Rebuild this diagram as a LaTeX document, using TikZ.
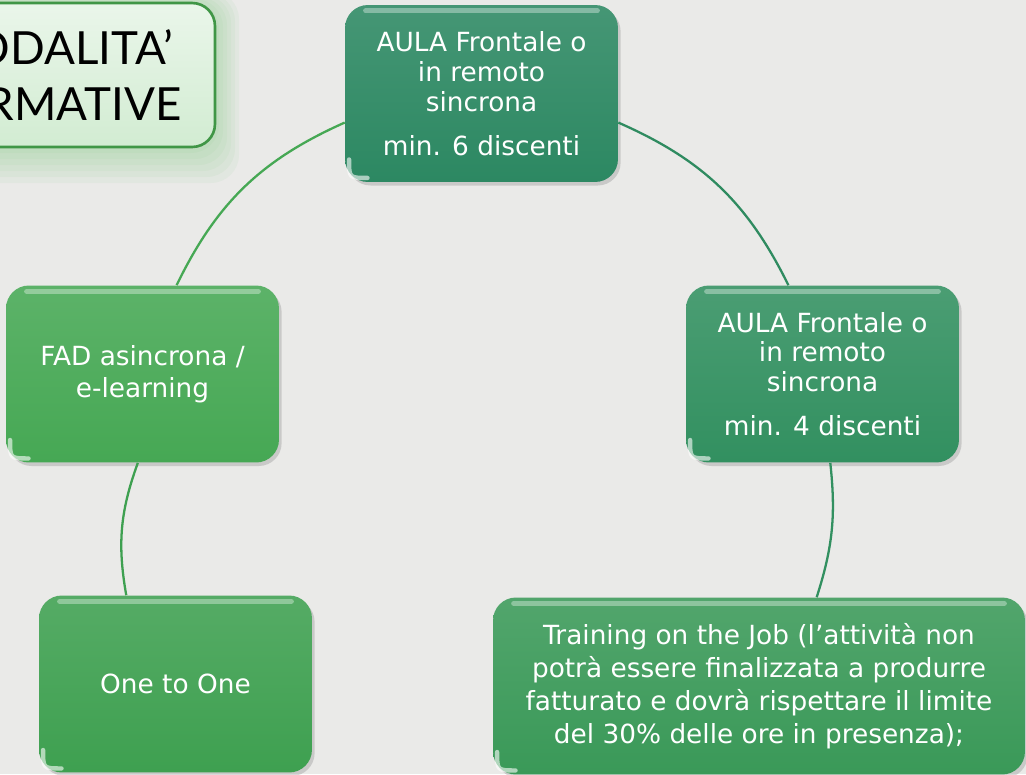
\documentclass[tikz,border=0pt]{standalone}
\usepackage{fontspec}
\setmainfont{DejaVu Sans}
\newfontfamily\titlefont{Lato}
\usetikzlibrary{shadows}
\definecolor{paper}{RGB}{234, 234, 232}
\definecolor{zx_teal}{RGB}{44, 136, 98}
\definecolor{zx_sea}{RGB}{50, 144, 96}
\definecolor{zx_jade}{RGB}{58, 153, 88}
\definecolor{zx_leaf}{RGB}{62, 160, 80}
\definecolor{zx_grass}{RGB}{70, 168, 84}
\definecolor{zx_mint}{RGB}{220, 240, 220}
\definecolor{zx_rim}{RGB}{64, 150, 70}
\definecolor{zx_glow}{RGB}{120, 200, 120}
\tikzstyle{cyc}=[rectangle,rounded corners=13pt,text=white,align=center,
  minimum width=5.46cm,minimum height=3.54cm,inner sep=4pt,
  font=\fontsize{15}{17}\selectfont,
  drop shadow={opacity=0.3,shadow xshift=1.5pt,shadow yshift=-2pt}]
\tikzstyle{teal}=[cyc,top color=zx_teal!88!white,bottom color=zx_teal]
\tikzstyle{sea}=[cyc,top color=zx_sea!88!white,bottom color=zx_sea]
\tikzstyle{jade}=[cyc,top color=zx_jade!88!white,bottom color=zx_jade]
\tikzstyle{leaf}=[cyc,top color=zx_leaf!88!white,bottom color=zx_leaf]
\tikzstyle{grass}=[cyc,top color=zx_grass!88!white,bottom color=zx_grass]
\tikzstyle{headbox}=[rectangle,rounded corners=13pt,draw=zx_rim,line width=1.5pt,
  top color=zx_mint!60!white,bottom color=zx_mint!90!zx_glow,align=center,
  minimum width=6.5cm,minimum height=2.88cm,
  font=\titlefont\fontsize{26}{32}\selectfont]
\tikzstyle{glow}=[fill=zx_glow,opacity=0.07,rounded corners=16pt]
\tikzstyle{arc}=[line width=1.3pt]
\tikzstyle{shine}=[white,opacity=0.35,line width=3pt,line cap=round]
\tikzstyle{glint}=[white,opacity=0.6,line width=2.5pt,line cap=round]
\newcommand{\boxshine}[1]{
            \draw [shine] ([xshift=12pt,yshift=-3.5pt]#1.north west) to ([xshift=-12pt,yshift=-3.5pt]#1.north east);
            \draw [glint] ([shift={(2.5pt,13pt)}]#1.south west) .. controls ([shift={(2.5pt,2.5pt)}]#1.south west) .. ([shift={(13pt,2.5pt)}]#1.south west);
}

\begin{document}
\begin{tikzpicture}[x=0.02cm, y=-0.02cm]
            \useasboundingbox (0, 0) rectangle (1026, 774);
            \clip (0, 0) rectangle (1026, 774);
            \fill [paper] (0, 0) rectangle (1026, 774);
            \foreach \g in {4,8,...,24}
                \fill [glow] ({-110-\g}, {3-\g/2}) rectangle ({215+\g}, {147+1.5*\g});
            \node [style=headbox] (head) at (52.5, 75) {MODALITA’\\FORMATIVE};
            \node [style=teal] (aula6) at (481.5, 93.5) {AULA Frontale o\\in remoto\\sincrona\\[8pt]min. 6 discenti};
            \node [style=sea] (aula4) at (822.5, 374) {AULA Frontale o\\in remoto\\sincrona\\[8pt]min. 4 discenti};
            \node [style=grass, font=\fontsize{15}{18}\selectfont] (fad) at (142.5, 374) {FAD asincrona /\\e-learning};
            \node [style=leaf] (one) at (175.5, 684) {One to One};
            \node [style=jade, minimum width=10.64cm, font=\fontsize{15}{18.7}\selectfont] (job) at (759, 686) {Training on the Job (l’attività non\\potrà essere finalizzata a produrre\\fatturato e dovrà rispettare il limite\\del 30\% delle ore in presenza);};
            \boxshine{aula6}
            \boxshine{aula4}
            \boxshine{fad}
            \boxshine{one}
            \boxshine{job}
            \draw [arc, zx_grass, bend right=20] (aula6.192) to (fad.69);
            \draw [arc, zx_teal!80!zx_jade, bend left=20] (aula6.348) to (aula4.111);
            \draw [arc, zx_leaf, bend right=15] (fad.267) to (one.119);
            \draw [arc, zx_sea, bend left=12] (aula4.275) to (job.57);
    \end{tikzpicture}
\end{document}
